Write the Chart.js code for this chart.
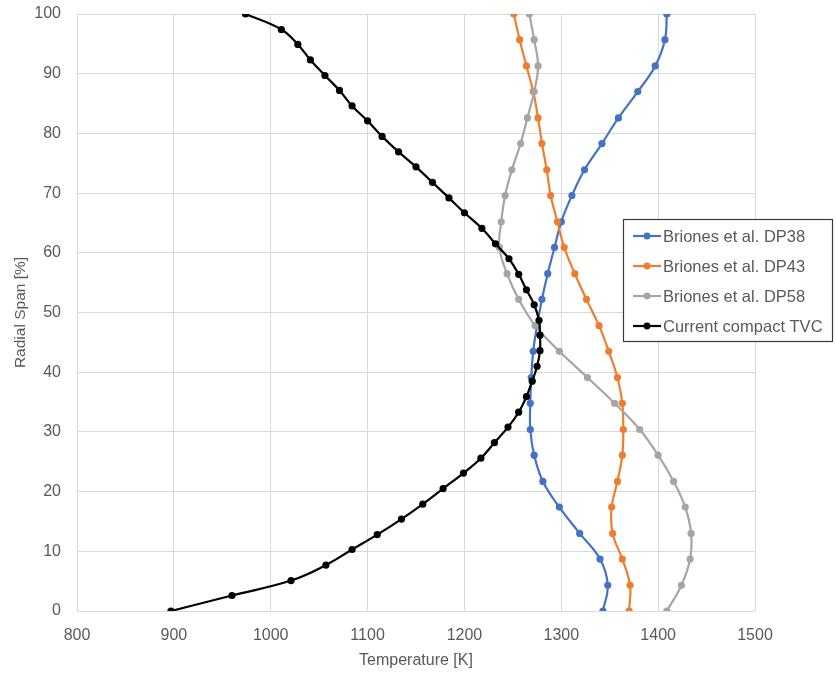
<!DOCTYPE html>
<html>
<head>
<meta charset="utf-8">
<script src="https://cdn.jsdelivr.net/npm/chart.js@4/dist/chart.umd.min.js"></script>
<style>
  html, body { margin: 0; padding: 0; background: #fff; }
  #wrap { width: 836px; height: 675px; }
</style>
</head>
<body>
<div id="wrap"><canvas id="chart" width="836" height="675"></canvas></div>
<script>
'use strict';

// radial span [%] of the Briones et al. stations
const spanBriones = [0, 4.3, 8.7, 13.0, 17.4, 21.7, 26.1, 30.4, 34.8, 39.1, 43.5, 47.8,
                     52.2, 56.5, 60.9, 65.2, 69.6, 73.9, 78.3, 82.6, 87.0, 91.3, 95.7, 100];
const tempDP38 = [1343, 1348, 1340, 1319, 1298, 1281, 1272, 1268, 1268, 1269, 1271, 1275,
                  1280, 1286, 1293, 1300, 1311, 1324, 1342, 1359, 1379, 1397, 1407, 1409];
const tempDP43 = [1370, 1371, 1363, 1353, 1352, 1358, 1363, 1364, 1363, 1358, 1349, 1339,
                  1326, 1314, 1303, 1296, 1289, 1285, 1280, 1276, 1271, 1264, 1257, 1251];
const tempDP58 = [1409, 1424, 1433, 1434, 1428, 1416, 1400, 1381, 1355, 1327, 1298, 1273,
                  1256, 1244, 1236, 1238, 1242, 1249, 1258, 1265, 1272, 1276, 1272, 1267];

// current compact TVC
const spanTVC = [0, 2.6, 5.1, 7.7, 10.3, 12.8, 15.4, 17.9, 20.5, 23.1, 25.6, 28.2, 30.8, 33.3,
                 35.9, 38.5, 41.0, 43.6, 46.2, 48.7, 51.3, 53.8, 56.4, 59.0, 61.5, 64.1, 66.7,
                 69.2, 71.8, 74.4, 76.9, 79.5, 82.1, 84.6, 87.2, 89.7, 92.3, 94.9, 97.4, 100];
const tempTVC = [897, 960, 1021, 1057, 1084, 1110, 1135, 1157, 1178, 1199, 1217, 1231, 1245, 1256,
                 1264, 1270, 1275, 1278, 1278, 1277, 1272, 1264, 1256, 1246, 1232, 1218, 1200,
                 1184, 1167, 1150, 1132, 1115, 1100, 1084, 1071, 1056, 1041, 1028, 1011, 974];

const seriesLabels = ['Briones et al. DP38', 'Briones et al. DP43', 'Briones et al. DP58', 'Current compact TVC'];
const seriesColors = ['#4472C4', '#ED7D31', '#A5A5A5', '#000000'];

const FONT = '"Liberation Sans", Arial, sans-serif';
const TEXT = '#595959';

function pairs(xs, ys){
    var out = [];
    for( var i = 0 ; i < xs.length ; i++ ){
        out.push({ x: xs[i], y: ys[i] });
    }
    return out;
}

function make_dataset(index, data){
    return {
        label: seriesLabels[index],
        data: data,
        borderColor: seriesColors[index],
        backgroundColor: seriesColors[index],
        pointBackgroundColor: seriesColors[index],
        pointBorderColor: seriesColors[index],
        pointBorderWidth: 0,
        pointRadius: 3.6,
        borderWidth: 2.2,
        tension: 0.4,
        fill: false,
        order: 4 - index,
    };
}

// legend box drawn over the plot, like the excel one
const boxLegend = {
    id: 'boxLegend',
    afterDatasetsDraw: function(chart){
        const ctx = chart.ctx;
        ctx.save();
        ctx.fillStyle = '#ffffff';
        ctx.fillRect(623, 219, 210, 123);
        ctx.strokeStyle = '#3a3a3a';
        ctx.lineWidth = 1.2;
        ctx.strokeRect(623.5, 219.5, 209, 122);
        ctx.font = '16.5px ' + FONT;
        ctx.textBaseline = 'middle';
        ctx.textAlign = 'left';
        for( var i = 0 ; i < seriesLabels.length ; i++ ){
            var y = 236 + i * 30;
            ctx.strokeStyle = seriesColors[i];
            ctx.lineWidth = 2.2;
            ctx.beginPath();
            ctx.moveTo(633, y);
            ctx.lineTo(661, y);
            ctx.stroke();
            ctx.fillStyle = seriesColors[i];
            ctx.beginPath();
            ctx.arc(647, y, 3.4, 0, Math.PI * 2);
            ctx.fill();
            ctx.fillStyle = TEXT;
            ctx.fillText(seriesLabels[i], 663, y + 1);
        }
        ctx.restore();
    }
};

const plain = function(value){ return String(value); };

const ctx = document.getElementById('chart').getContext('2d');
window.chart = new Chart(ctx, {
    type: 'line',
    data: {
        datasets: [
            make_dataset(0, pairs(tempDP38, spanBriones)),
            make_dataset(1, pairs(tempDP43, spanBriones)),
            make_dataset(2, pairs(tempDP58, spanBriones)),
            make_dataset(3, pairs(tempTVC, spanTVC)),
        ],
    },
    options: {
        responsive: false,
        animation: false,
        devicePixelRatio: 1,
        layout: {
            padding: { left: 0, right: 81, top: 14, bottom: 0 },
        },
        plugins: {
            legend: { display: false },
            tooltip: { enabled: false },
        },
        scales: {
            x: {
                type: 'linear',
                min: 800,
                max: 1500,
                ticks: {
                    stepSize: 100,
                    color: TEXT,
                    font: { family: FONT, size: 16 },
                    padding: 15,
                    maxRotation: 0,
                    callback: plain,
                },
                grid: { color: '#D9D9D9', lineWidth: 1, drawTicks: false },
                border: { display: false },
                title: {
                    display: true,
                    text: 'Temperature [K]',
                    color: TEXT,
                    font: { family: FONT, size: 16 },
                    padding: { top: 0, bottom: 5 },
                },
                afterFit: function(scale){ scale.height = 64; },
            },
            y: {
                type: 'linear',
                min: 0,
                max: 100,
                ticks: {
                    stepSize: 10,
                    color: TEXT,
                    font: { family: FONT, size: 16 },
                    padding: 16,
                    callback: plain,
                },
                grid: { color: '#D9D9D9', lineWidth: 1, drawTicks: false },
                border: { display: false },
                title: {
                    display: true,
                    text: 'Radial Span [%]',
                    color: TEXT,
                    font: { family: FONT, size: 15.5 },
                    padding: { top: 11, bottom: 0 },
                },
                afterFit: function(scale){
                    scale.width = 77;
                    // tick padding would otherwise push the plot top down
                    scale.paddingTop = 8;
                    scale.paddingBottom = 8;
                },
            },
        },
    },
    plugins: [boxLegend],
});
</script>
</body>
</html>
